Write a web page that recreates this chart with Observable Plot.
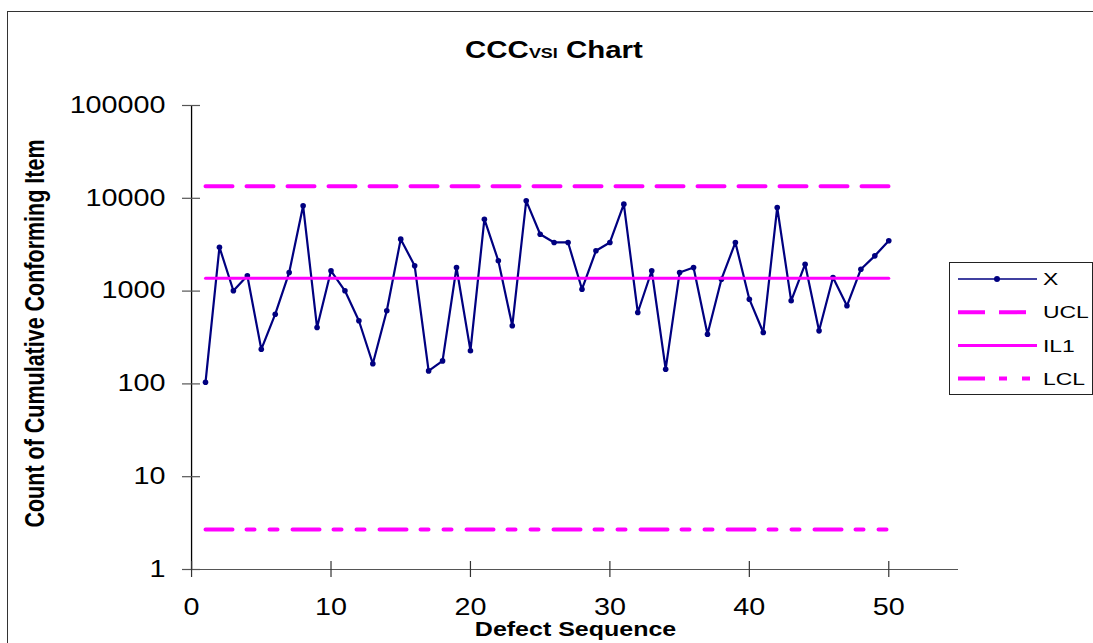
<!DOCTYPE html>
<html><head><meta charset="utf-8">
<script src="https://cdn.jsdelivr.net/npm/d3@7"></script>
<script src="https://cdn.jsdelivr.net/npm/@observablehq/plot@0.6"></script>
<style>
html,body{margin:0;padding:0;background:#fff;overflow:hidden;width:1093px;height:643px;font-family:"Liberation Sans",Arial,sans-serif;}
#wrap{position:relative;width:1093px;height:643px;overflow:hidden;}
#border{position:absolute;left:7px;top:11px;width:1200px;height:800px;border-left:1.6px solid #333;border-top:1.6px solid #333;}
#chart{position:absolute;left:0;top:0;}
#title{position:absolute;left:0;top:0;}
#legend{position:absolute;left:949px;top:262px;width:142px;height:131px;border:1px solid #222;background:#fff;}
</style></head><body>
<div id="wrap"><div id="border"></div><div id="chart"></div><svg id="title" width="1093" height="80"></svg><div id="legend"></div></div>
<script>
// ---- data ----
const sequence = [1,2,3,4,5,6,7,8,9,10,11,12,13,14,15,16,17,18,19,20,21,22,23,24,25,26,27,28,29,30,31,32,33,34,35,36,37,38,39,40,41,42,43,44,45,46,47,48,49,50];
const counts = [104,2973,1008,1462,236,564,1585,8300,405,1656,
                1008,479,165,614,3628,1874,138,177,1795,228,
                5956,2122,423,9397,4102,3342,3342,1048,2718,3342,
                8650,588,1656,144,1585,1795,343,1343,3342,818,
                358,7960,786,1950,373,1402,694,1722,2399,3484];
const UCL = 13500, IL1 = 1377, LCL = 2.7;
const yTicks = [1,10,100,1000,10000,100000];
const xTicks = [0,10,20,30,40,50];
const seriesNames = ["X","UCL","IL1","LCL"];
const titleMain = "CCC", titleSub = "VSI", titleEnd = " Chart";
const xTitle = "Defect Sequence";
const yTitle = "Count of Cumulative Conforming Item";

// ---- styles ----
const navy = "#000080", magenta = "#ff00ff";
const FONT = "'Liberation Sans', Arial, sans-serif";
const table = sequence.map((s, i) => ({seq: s, count: counts[i]}));

const plot = Plot.plot({
  width: 1093, height: 643,
  marginLeft: 182, marginRight: 135, marginTop: 105, marginBottom: 74,
  style: {fontFamily: FONT, background: "transparent", color: "#000", overflow: "visible"},
  x: {domain: [-0.65, 55]},
  y: {type: "log", domain: [1, 100000]},
  marks: [
    Plot.ruleY([1], {stroke: "#555", strokeWidth: 1.2}),
    Plot.ruleX([0], {stroke: "#000", strokeWidth: 1.3}),
    Plot.axisY(yTicks, {tickSize: 18, dx: 18, fill: "none", stroke: "#555", strokeWidth: 1.2, label: null}),
    Plot.axisY(yTicks, {tickSize: 0, tickPadding: 17, fontSize: 23, tickFormat: d => String(d), label: null, fill: "#000"}),
    Plot.axisX(xTicks, {tickSize: 16, dy: -8, fill: "none", stroke: "#333", strokeWidth: 1.2, label: null}),
    Plot.axisX(xTicks, {tickSize: 0, tickPadding: 29, fontSize: 23, tickFormat: d => String(d), label: null, fill: "#000"}),
    Plot.line(table, {x: "seq", y: "count", stroke: navy, strokeWidth: 2.2}),
    Plot.dot(table, {x: "seq", y: "count", r: 2.8, fill: navy, stroke: "none"}),
    Plot.lineY(sequence, {x: d => d, y: () => UCL, stroke: magenta, strokeWidth: 4, strokeDasharray: "27,14"}),
    Plot.lineY(sequence, {x: d => d, y: () => IL1, stroke: magenta, strokeWidth: 3}),
    Plot.lineY(sequence, {x: d => d, y: () => LCL, stroke: magenta, strokeWidth: 4, strokeDasharray: "27,14,8,15,8,15"}),
    Plot.text([xTitle], {text: d => d, frameAnchor: "bottom", textAnchor: "middle", dx: 5, dy: 66, fontWeight: "bold", fontSize: 20, fill: "#000"}),
    Plot.text([yTitle], {text: d => d, frameAnchor: "left", textAnchor: "middle", rotate: -90, dx: -147, dy: -4, fontWeight: "bold", fontSize: 21.5, fill: "#000"})
  ]
});
document.getElementById("chart").appendChild(plot);

// horizontal stretch of text glyphs (the reference is horizontally stretched)
function stretchText(svg, k, filter) {
  for (const t of Array.from(svg.querySelectorAll("text"))) {
    if (filter && !filter(t)) continue;
    const r = t.getBoundingClientRect();
    if (!r.width) continue;
    const anchor = getComputedStyle(t).textAnchor;
    const isRot = (t.getAttribute("transform") || "").includes("rotate");
    const ax = isRot ? r.left + r.width / 2 : anchor === "end" ? r.right : anchor === "start" ? r.left : r.left + r.width / 2;
    const p = t.parentNode;
    const m = p.getScreenCTM().inverse();
    const pt = svg.createSVGPoint(); pt.x = ax; pt.y = r.top + r.height / 2;
    const c = pt.matrixTransform(m);
    const g = document.createElementNS("http://www.w3.org/2000/svg", "g");
    g.setAttribute("transform", `translate(${c.x},${c.y}) scale(${k},1) translate(${-c.x},${-c.y})`);
    p.insertBefore(g, t); g.appendChild(t);
  }
}
stretchText(plot, 1.25);

// title
const ts = d3.select("#title");
const tt = ts.append("text").attr("x", 554).attr("y", 58).attr("text-anchor", "middle")
  .attr("font-family", FONT).attr("font-weight", "bold").attr("font-size", 23).attr("fill", "#000");
tt.append("tspan").text(titleMain);
tt.append("tspan").attr("font-size", 14).text(titleSub);
tt.append("tspan").text(titleEnd);
stretchText(document.getElementById("title"), 1.28);

// legend
const styles = {
  X: {stroke: navy, w: 1.5, dash: null, dot: true},
  UCL: {stroke: magenta, w: 4, dash: "27,14"},
  IL1: {stroke: magenta, w: 3, dash: null},
  LCL: {stroke: magenta, w: 4, dash: "27,14,8,15,8,15"}
};
const lg = d3.select("#legend").append("svg").attr("width", 142).attr("height", 131);
seriesNames.forEach((name, i) => {
  const y = 16 + i * 33.2, s = styles[name];
  lg.append("line").attr("x1", 8).attr("x2", 87).attr("y1", y).attr("y2", y)
    .attr("stroke", s.stroke).attr("stroke-width", s.w).attr("stroke-dasharray", s.dash);
  if (s.dot) lg.append("circle").attr("cx", 47).attr("cy", y).attr("r", 3).attr("fill", navy);
  lg.append("text").attr("x", 93).attr("y", y).attr("dy", "0.36em").attr("font-family", FONT)
    .attr("font-size", 17).attr("fill", "#000").text(name);
});
stretchText(lg.node(), 1.35);
</script>
</body></html>
